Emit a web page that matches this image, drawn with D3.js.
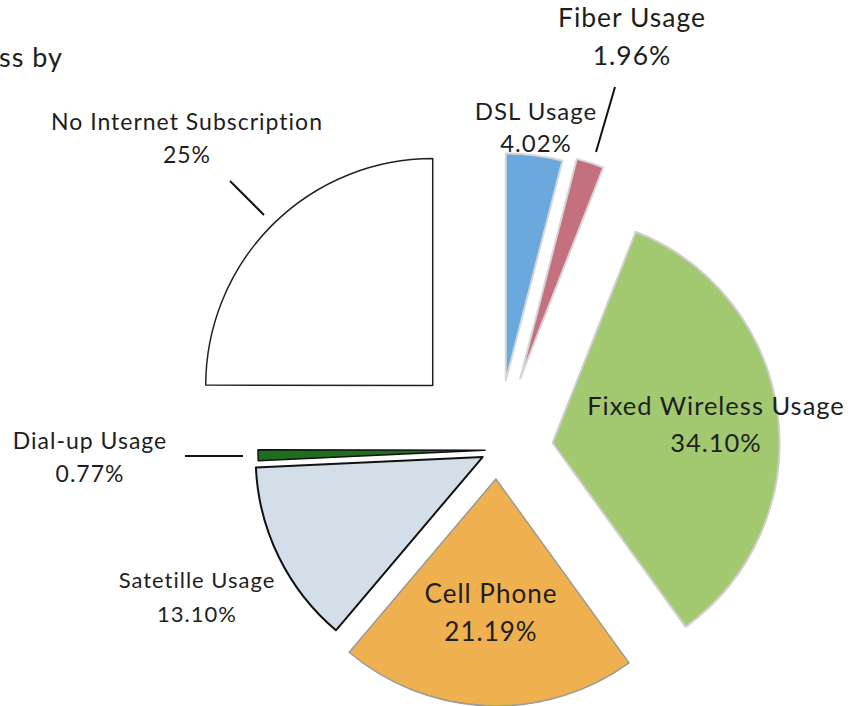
<!DOCTYPE html>
<html>
<head>
<meta charset="utf-8">
<script src="https://cdn.jsdelivr.net/npm/d3@7"></script>
<style>
  body { margin: 0; background: #fff; }
  svg { display: block; font-family: Lato, "Open Sans", sans-serif; }
  .label { fill: #1e1e1e; letter-spacing: 1px; }
</style>
</head>
<body>
<div id="chart"></div>
<script>
// data
var categories = ['DSL Usage', 'Fiber Usage', 'Fixed Wireless Usage', 'Cell Phone',
  'Satetille Usage', 'Dial-up Usage', 'No Internet Subscription']
var shares = [4.02, 1.96, 34.10, 21.19, 13.10, 0.77, 25]
var shareLabels = ['4.02%', '1.96%', '34.10%', '21.19%', '13.10%', '0.77%', '25%']

// styles
var fills = ['#6aa8de', '#c5707f', '#a2c96f', '#efb04f', '#d3dee8', '#1f6e1f', '#ffffff']
var strokes = ['#d6d6d6', '#d6d6d6', '#cfcfcf', '#9a9a9a', '#111', '#111', '#222']
var strokeWidths = [2, 2, 2, 1.5, 2, 1.5, 1.5]
var explode = [70, 75, 56, 29, 16, 12, 91]
// label anchor (text centre x, first baseline y), font size, line gap
var labelPos = [
  [536, 120, 24, 32], [632, 27, 26.5, 38], [716, 415, 25.5, 37], [491, 603, 26, 38],
  [197, 588, 22, 34], [90, 449, 23, 33], [187, 130, 23, 33]
]
var leaders = [
  null, [[596, 152], [615, 87]], null, null, null,
  [[185, 456], [243, 456]], [[230, 181], [264, 215]]
]

var width = 856
var height = 706
var cx = 497
var cy = 450
var radius = 227

var svg = d3.select('#chart')
  .append('svg')
  .attr('width', width)
  .attr('height', height)

// cut-off title fragment at the top left
svg.append('text')
  .attr('class', 'label')
  .attr('x', -1)
  .attr('y', 67)
  .attr('font-size', 27)
  .text('ss by')

var pie = d3.pie().sort(null).value(d => d)
var arc = d3.arc().innerRadius(0).outerRadius(radius)

var slices = pie(shares)

svg.append('g')
  .attr('transform', 'translate(' + cx + ',' + cy + ')')
  .selectAll('path')
  .data(slices)
  .enter().append('path')
  .attr('d', arc)
  .attr('transform', function(d, i) {
    var mid = (d.startAngle + d.endAngle) / 2
    var dx = Math.sin(mid) * explode[i]
    var dy = -Math.cos(mid) * explode[i]
    return 'translate(' + dx + ',' + dy + ')'
  })
  .attr('fill', (d, i) => fills[i])
  .attr('stroke', (d, i) => strokes[i])
  .attr('stroke-width', (d, i) => strokeWidths[i])
  .attr('stroke-linejoin', 'round')

// leader lines
svg.append('g')
  .selectAll('line')
  .data(leaders.filter(d => d))
  .enter().append('line')
  .attr('x1', d => d[0][0])
  .attr('y1', d => d[0][1])
  .attr('x2', d => d[1][0])
  .attr('y2', d => d[1][1])
  .attr('stroke', '#111')
  .attr('stroke-width', 2)

// labels
var labels = svg.append('g')
  .selectAll('text')
  .data(categories)
  .enter().append('text')
  .attr('class', 'label')
  .attr('text-anchor', 'middle')
  .attr('font-size', (d, i) => labelPos[i][2])

labels.append('tspan')
  .attr('x', (d, i) => labelPos[i][0])
  .attr('y', (d, i) => labelPos[i][1])
  .text(d => d)

labels.append('tspan')
  .attr('x', (d, i) => labelPos[i][0])
  .attr('y', (d, i) => labelPos[i][1] + labelPos[i][3])
  .text((d, i) => shareLabels[i])
</script>
</body>
</html>
